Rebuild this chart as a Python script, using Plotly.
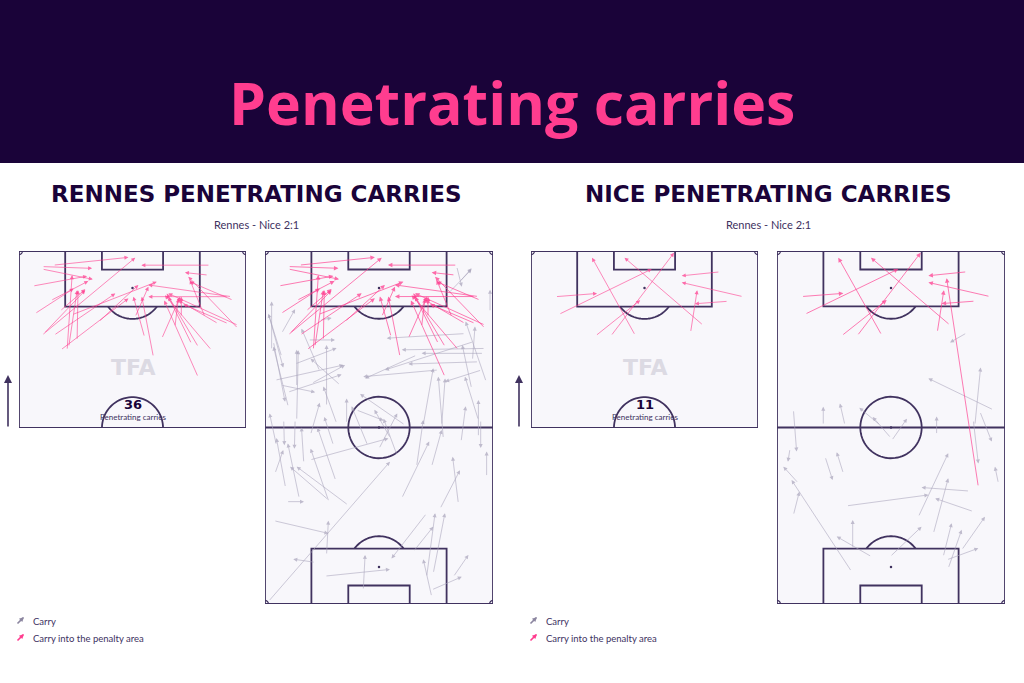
import numpy as np
import plotly.graph_objects as go

W, H = 1024, 683

# ---------------- DATA (pitch coords: x across 0-100, y along 0-100, attacking up) -------------
rennes_pink_x0 = [15.1, 10.2, 6.1, 10.2, 7.0, 11.0, 15.4, 18.3, 21.2, 21.9, 25.6, 10.1, 18.0, 14.0,
                  84.1, 83.3, 96.5, 94.3, 93.6, 23.4, 35.1, 59.2, 79.0, 76.0, 84.8, 68.7, 62.9, 87.7,
                  96.5, 71.5, 92.1, 92.1, 55.3, 51.2, 81.9, 78.9]
rennes_pink_y0 = [96.0, 95.6, 90.1, 94.9, 82.3, 76.7, 76.2, 72.0, 72.0, 72.9, 74.8, 76.2, 83.0, 86.0,
                  96.0, 93.2, 78.1, 86.1, 87.1, 82.0, 80.0, 70.1, 72.9, 73.8, 72.0, 78.6, 75.3, 79.5,
                  79.0, 81.4, 79.5, 87.1, 75.7, 81.4, 81.4, 64.4]
rennes_pink_x1 = [48.2, 32.2, 30.0, 32.5, 24.1, 29.2, 42.4, 48.2, 23.4, 25.6, 26.0, 51.2, 29.2, 30.5,
                  53.9, 73.1, 74.6, 75.3, 57.0, 60.7, 52.6, 54.1, 65.1, 65.8, 64.3, 70.2, 71.0, 70.2,
                  65.8, 71.5, 72.4, 57.0, 50.4, 57.0, 75.3, 64.0]
rennes_pink_y1 = [98.2, 95.1, 92.9, 92.0, 89.4, 88.9, 88.0, 86.6, 93.2, 88.9, 88.9, 98.1, 89.2, 91.5,
                  96.0, 93.9, 92.7, 91.3, 90.4, 91.3, 90.4, 87.1, 88.0, 87.1, 87.5, 86.6, 87.1, 86.1,
                  88.0, 87.1, 84.9, 87.1, 87.1, 89.9, 91.8, 86.0]

rennes_grey_x0 = [1.5, 3.9, 9.5, 36.5, 27.8, 27.0, 22.0, 26.3, 43.1, 70.9, 65.0, 70.9, 73.8, 73.1,
                  73.1, 82.6, 76.8, 84.8, 97.2, 94.6, 4.4, 19.7, 66.5, 73.1, 8.2, 13.2, 28.0, 31.0,
                  95.8, 93.6, 76.0, 4.4, 13.9, 10.2, 13.9, 20.5, 27.0, 31.4, 61.4, 35.8, 78.2, 93.6,
                  93.6, 95.0, 2.9, 7.3, 7.3, 24.1, 19.0, 80.4, 91.0, 96.5, 87.7, 84.1, 85.4, 98.7,
                  1.5, 3.7, 13.2, 10.0, 66.5, 91.4, 69.4, 77.5, 90.6, 40.0, 45.0, 55.0, 50.0, 58.0,
                  20.0, 17.0, 5.0, 30.0, 9.0, 15.0, 60.0, 86.0, 7.0, 24.0, 33.0, 97.0]
rennes_grey_y0 = [0.7, 23.6, 29.0, 28.0, 29.5, 13.9, 11.8, 7.9, 4.0, 25.7, 14.8, 7.7, 8.7, 2.1,
                  4.0, 7.7, 27.0, 28.5, 36.1, 52.1, 37.0, 40.8, 39.0, 39.0, 52.1, 52.1, 29.0, 35.0,
                  71.0, 68.6, 66.3, 63.4, 61.6, 55.9, 52.1, 62.5, 56.1, 51.2, 50.7, 51.2, 46.9, 47.4,
                  52.1, 66.3, 72.0, 76.7, 70.1, 80.5, 74.8, 88.0, 69.1, 72.4, 76.6, 95.6, 91.3, 82.8,
                  82.3, 74.3, 68.0, 60.0, 70.5, 74.3, 50.7, 50.7, 61.1, 55.0, 45.0, 47.0, 44.0, 42.0,
                  48.0, 40.0, 45.0, 45.0, 33.0, 30.0, 30.0, 46.0, 62.0, 66.0, 62.0, 63.0]
rennes_grey_x1 = [54.8, 27.8, 17.1, 13.9, 11.0, 27.8, 12.4, 54.8, 43.9, 55.5, 73.8, 74.6, 78.9, 69.4,
                  86.3, 89.2, 85.5, 82.3, 97.2, 94.6, 8.0, 54.1, 69.4, 77.5, 8.5, 12.9, 20.0, 23.0,
                  68.7, 62.9, 43.1, 34.4, 13.9, 3.7, 14.6, 35.1, 27.0, 25.6, 41.7, 35.8, 76.0, 93.6,
                  87.7, 79.0, 2.9, 13.2, 1.5, 29.2, 30.7, 90.6, 92.1, 60.0, 53.4, 86.3, 90.6, 98.7,
                  8.0, 8.8, 31.4, 33.6, 43.9, 52.6, 73.8, 79.0, 86.5, 52.0, 38.0, 48.0, 58.0, 52.0,
                  24.0, 16.0, 2.0, 26.0, 5.0, 10.0, 72.0, 88.0, 22.0, 16.0, 20.0, 88.0]
rennes_grey_y1 = [40.3, 20.0, 29.0, 38.9, 38.9, 23.6, 12.7, 9.8, 13.9, 12.9, 21.9, 25.7, 25.7, 12.7,
                  7.7, 13.9, 37.9, 41.7, 43.2, 44.2, 43.6, 46.9, 52.1, 49.3, 45.0, 44.0, 44.0, 50.0,
                  71.0, 68.0, 64.4, 67.7, 72.0, 72.9, 71.9, 67.7, 73.4, 61.6, 59.5, 58.2, 64.4, 57.8,
                  64.4, 63.0, 85.7, 83.5, 82.2, 81.0, 74.8, 94.8, 78.6, 72.0, 75.3, 89.9, 95.1, 89.0,
                  67.0, 57.3, 72.5, 65.0, 63.9, 66.3, 66.8, 63.9, 73.4, 52.0, 56.0, 55.0, 54.0, 52.5,
                  57.0, 50.0, 54.0, 53.0, 47.0, 45.5, 46.0, 56.0, 60.0, 78.0, 69.5, 80.0]

nice_pink_x0 = [10.8, 12.3, 45.9, 28.4, 35.2, 75.9, 83.2, 93.4, 86.8, 70.3, 88.3]
nice_pink_y0 = [87.1, 82.1, 76.2, 76.0, 76.0, 79.0, 94.1, 87.1, 85.8, 77.0, 33.2]
nice_pink_x1 = [29.1, 53.2, 26.9, 48.1, 63.0, 41.2, 66.4, 66.4, 72.2, 73.2, 74.4]
nice_pink_y1 = [88.0, 94.9, 98.1, 86.1, 99.5, 98.1, 93.0, 91.1, 85.1, 88.9, 92.3]

nice_grey_x0 = [83.2, 94.9, 86.8, 20.3, 29.8, 45.2, 50.3, 70.0, 7.2, 5.7, 9.4, 7.2, 32.7, 21.1,
                29.1, 30.5, 62.0, 68.6, 84.4, 86.1, 41.5, 33.2, 49.6, 72.9, 75.1, 81.0, 74.4, 97.1,
                89.0, 50.0, 86.1]
nice_grey_y0 = [76.8, 55.0, 50.7, 50.7, 50.7, 50.7, 46.3, 48.0, 55.0, 44.0, 34.2, 25.2, 9.2, 41.7,
                37.0, 27.8, 24.7, 20.0, 32.0, 26.2, 13.4, 15.8, 13.4, 13.4, 10.1, 15.3, 12.5, 34.2,
                54.5, 47.0, 52.1]
nice_grey_x1 = [75.9, 66.4, 89.3, 20.3, 27.6, 36.1, 57.0, 70.0, 8.6, 4.8, 2.8, 9.8, 6.4, 24.4,
                26.2, 66.4, 75.1, 75.1, 63.4, 69.4, 26.2, 33.2, 63.4, 76.6, 81.0, 91.2, 88.3, 95.6,
                94.2, 42.0, 88.3]
nice_grey_y1 = [74.1, 63.9, 67.0, 55.9, 56.8, 55.6, 52.5, 53.1, 43.2, 40.3, 38.9, 31.8, 35.1, 35.1,
                43.0, 30.9, 42.7, 35.6, 33.0, 29.9, 19.1, 23.8, 21.9, 22.9, 21.0, 24.7, 15.8, 38.9,
                46.0, 53.0, 39.8]

rennes_count = "36"
nice_count = "11"
title_text = "Penetrating carries"
panel_titles = ["RENNES PENETRATING CARRIES", "NICE PENETRATING CARRIES"]
match_label = "Rennes - Nice 2:1"
legend_labels = ["Carry", "Carry into the penalty area"]

# ---------------- STYLE -------------
LINE = "#40325f"
PINK = "rgba(255,61,143,0.75)"
PINK_SOLID = "#ff3d8f"
GREY = "rgba(170,165,188,0.72)"
DARK = "#1a0339"
PITCH = "#f8f7fb"


def PX(x):
    return x / W


def PY(y):
    return 1 - y / H


# pitch geometry in 0-100 units (105 x 68 m pitch)
BOX_X0, BOX_X1, BOX_D = 20.35, 79.65, 15.71
SIX_X0, SIX_X1, SIX_D = 36.53, 63.47, 5.24
SPOT_D = 10.48
RX, RY = 13.46, 8.71
CRX, CRY = 1.5, 1.0


def arc_path(cx, cy, rx, ry, a0, a1, n=40):
    t = np.linspace(np.radians(a0), np.radians(a1), n)
    xs = cx + rx * np.cos(t)
    ys = cy + ry * np.sin(t)
    return "M " + " L ".join(f"{a:.3f},{b:.3f}" for a, b in zip(xs, ys))


def pitch_shapes(xr, yr, half):
    y0 = 50 if half else 0
    lw = 1.8
    ln = dict(color=LINE, width=lw)
    thin = dict(color=LINE, width=1.2)
    s = [dict(type="rect", xref=xr, yref=yr, x0=0, x1=100, y0=y0, y1=100,
              fillcolor=PITCH, line=ln, layer="below")]
    s.append(dict(type="rect", xref=xr, yref=yr, x0=BOX_X0, x1=BOX_X1, y0=100 - BOX_D, y1=100, line=ln))
    s.append(dict(type="rect", xref=xr, yref=yr, x0=SIX_X0, x1=SIX_X1, y0=100 - SIX_D, y1=100, line=ln))
    s.append(dict(type="path", xref=xr, yref=yr, path=arc_path(50, 100 - SPOT_D, RX, RY, -143.1, -36.9), line=ln))
    s.append(dict(type="path", xref=xr, yref=yr, path=arc_path(0, 100, CRX, CRY, -90, 0, 10), line=thin))
    s.append(dict(type="path", xref=xr, yref=yr, path=arc_path(100, 100, CRX, CRY, 180, 270, 10), line=thin))
    if half:
        s.append(dict(type="path", xref=xr, yref=yr, path=arc_path(50, 50, RX, RY, 0, 180), line=ln))
    else:
        s.append(dict(type="line", xref=xr, yref=yr, x0=0, x1=100, y0=50, y1=50, line=ln))
        s.append(dict(type="path", xref=xr, yref=yr, path=arc_path(50, 50, RX, RY, 0, 360, 80), line=ln))
        s.append(dict(type="rect", xref=xr, yref=yr, x0=BOX_X0, x1=BOX_X1, y0=0, y1=BOX_D, line=ln))
        s.append(dict(type="rect", xref=xr, yref=yr, x0=SIX_X0, x1=SIX_X1, y0=0, y1=SIX_D, line=ln))
        s.append(dict(type="path", xref=xr, yref=yr, path=arc_path(50, SPOT_D, RX, RY, 36.9, 143.1), line=ln))
        s.append(dict(type="path", xref=xr, yref=yr, path=arc_path(0, 0, CRX, CRY, 0, 90, 10), line=thin))
        s.append(dict(type="path", xref=xr, yref=yr, path=arc_path(100, 0, CRX, CRY, 90, 180, 10), line=thin))
    return s


def arrows(x0, y0, x1, y1, xr, yr, color, width, size, ymin=None):
    out = []
    for a, b, c, d in zip(x0, y0, x1, y1):
        if ymin is not None and b < ymin:
            continue
        out.append(dict(x=c, y=d, ax=a, ay=b, xref=xr, yref=yr, axref=xr, ayref=yr,
                        showarrow=True, arrowhead=2, arrowsize=size, arrowwidth=width,
                        arrowcolor=color, text="", standoff=0))
    return out


panels = [
    ("x", "y", (19, 246), (251, 428), True),
    ("x2", "y2", (265, 493), (251, 604), False),
    ("x3", "y3", (531, 758), (251, 428), True),
    ("x4", "y4", (777, 1005), (251, 604), False),
]

fig = go.Figure()
layout_axes = {}
shapes = []
for i, (xa, ya, xd, yd, half) in enumerate(panels):
    suffix = "" if i == 0 else str(i + 1)
    layout_axes["xaxis" + suffix] = dict(domain=[PX(xd[0]), PX(xd[1])], range=[0, 100], visible=False,
                                         fixedrange=True, anchor=ya)
    layout_axes["yaxis" + suffix] = dict(domain=[PY(yd[1]), PY(yd[0])], range=[50 if half else 0, 100],
                                         visible=False, fixedrange=True, anchor=xa)
    shapes += pitch_shapes(xa, ya, half)
    spots_x = [50] if half else [50, 50, 50]
    spots_y = [100 - SPOT_D] if half else [100 - SPOT_D, SPOT_D, 50]
    fig.add_trace(go.Scatter(x=spots_x, y=spots_y, xaxis=xa, yaxis=ya, mode="markers",
                             marker=dict(size=2.5, color=LINE), hoverinfo="skip", showlegend=False))

shapes.insert(0, dict(type="rect", xref="paper", yref="paper", x0=0, x1=1, y0=PY(163), y1=1,
                      fillcolor=DARK, line=dict(width=0), layer="below"))

ann = []
ann += arrows(rennes_grey_x0, rennes_grey_y0, rennes_grey_x1, rennes_grey_y1, "x2", "y2", GREY, 0.8, 1.0)
ann += arrows(nice_grey_x0, nice_grey_y0, nice_grey_x1, nice_grey_y1, "x4", "y4", GREY, 0.8, 1.0)
ann += arrows(rennes_pink_x0, rennes_pink_y0, rennes_pink_x1, rennes_pink_y1, "x", "y", PINK, 0.8, 1.0, 50)
ann += arrows(rennes_pink_x0, rennes_pink_y0, rennes_pink_x1, rennes_pink_y1, "x2", "y2", PINK, 0.9, 1.0)
ann += arrows(nice_pink_x0, nice_pink_y0, nice_pink_x1, nice_pink_y1, "x3", "y3", PINK, 0.8, 1.0, 50)
ann += arrows(nice_pink_x0, nice_pink_y0, nice_pink_x1, nice_pink_y1, "x4", "y4", PINK, 0.9, 1.0)


def txt(text, x, y, size, color, family="Lato", weight="normal", xanchor="center"):
    return dict(text=text, x=PX(x), y=PY(y), xref="paper", yref="paper", showarrow=False,
                xanchor=xanchor, yanchor="middle",
                font=dict(size=size, color=color, family=family, weight=weight))


ann.append(txt(title_text, 512, 102, 59, PINK_SOLID, "Open Sans", "bold"))
for cx, pt, hx, cnt, lx, vx in [(256, panel_titles[0], 133, rennes_count, 17, 8),
                                (768, panel_titles[1], 645, nice_count, 530, 519)]:
    ann.append(txt(pt, cx, 194, 23, DARK, "DejaVu Sans", "bold"))
    ann.append(txt(match_label, cx, 225, 11, LINE, "Lato"))
    ann.append(txt("TFA", hx, 367, 22, "#dcdae3", "DejaVu Sans", "bold"))
    ann.append(txt(cnt, hx, 404, 13, DARK, "DejaVu Sans", "bold"))
    ann.append(txt("Penetrating carries", hx, 417, 8, LINE, "Lato"))
    ann.append(dict(x=PX(vx), y=PY(375), xref="paper", yref="paper", ax=0, ay=53, axref="pixel",
                    ayref="pixel", showarrow=True, arrowhead=2, arrowsize=1, arrowwidth=1.6,
                    arrowcolor=LINE, text=""))
    ann.append(dict(x=PX(lx + 7), y=PY(617), xref="paper", yref="paper", ax=-8, ay=8, axref="pixel",
                    ayref="pixel", showarrow=True, arrowhead=2, arrowsize=0.6, arrowwidth=1.6,
                    arrowcolor="#8c86a0", text=""))
    ann.append(dict(x=PX(lx + 7), y=PY(634), xref="paper", yref="paper", ax=-8, ay=8, axref="pixel",
                    ayref="pixel", showarrow=True, arrowhead=2, arrowsize=0.6, arrowwidth=1.6,
                    arrowcolor=PINK_SOLID, text=""))
    ann.append(txt(legend_labels[0], lx + 14, 621, 9.5, LINE, "Lato", xanchor="left"))
    ann.append(txt(legend_labels[1], lx + 14, 638, 9.5, LINE, "Lato", xanchor="left"))

fig.update_layout(width=W, height=H, margin=dict(l=0, r=0, t=0, b=0), paper_bgcolor="white",
                  plot_bgcolor="white", showlegend=False, shapes=shapes, annotations=ann, **layout_axes)
fig.write_html("out.html", config={"displayModeBar": False},
               post_script="document.body.style.margin='0px';document.body.style.overflow='hidden';")
